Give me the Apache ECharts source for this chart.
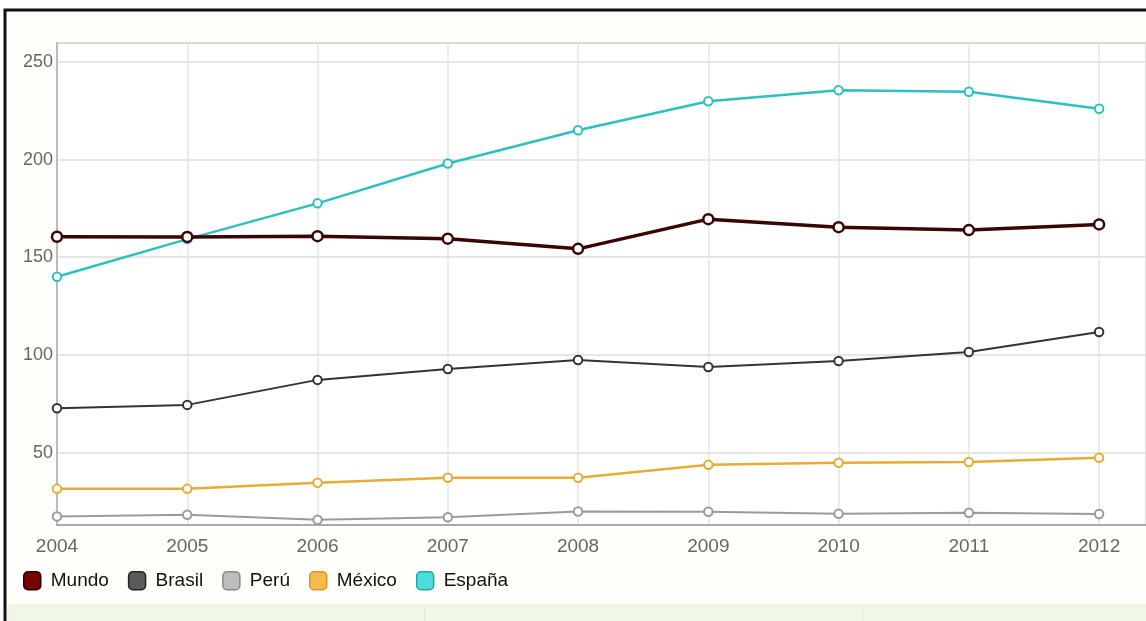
<!DOCTYPE html>
<html>
<head>
<meta charset="utf-8">
<title>Producción por país 2004-2012</title>
<script src="https://cdn.jsdelivr.net/npm/echarts@6/dist/echarts.min.js"></script>
<style>
  html, body { margin: 0; padding: 0; background: #ffffff; }
  #chart { width: 1146px; height: 621px; }
</style>
</head>
<body>
<div id="chart"></div>
<script>
// Years on the horizontal axis
const years = [2004, 2005, 2006, 2007, 2008, 2009, 2010, 2011, 2012];

// Series values per year
const mundo  = [160.5, 160.4, 160.8, 159.5, 154.3, 169.5, 165.4, 163.9, 166.8];
const brasil = [72.7, 74.4, 87.2, 92.8, 97.4, 93.8, 96.9, 101.5, 111.7];
const peru   = [17.3, 18.1, 15.6, 16.9, 19.8, 19.7, 18.6, 19.2, 18.5];
const mexico = [31.4, 31.4, 34.5, 37.1, 37.1, 43.7, 44.8, 45.2, 47.3];
const espana = [140.0, 159.3, 177.6, 198.0, 215.0, 229.9, 235.5, 234.7, 226.0];

const seriesNames = ['Mundo', 'Brasil', 'Perú', 'México', 'España'];
const seriesData = [mundo, brasil, peru, mexico, espana];

// Line / marker styling per series
const lineColors   = ['#3a0505', '#333333', '#9a9a9a', '#e9ab35', '#2cc0c0'];
const lineWidths   = [3.5, 2, 2, 2.5, 2.5];
const legendFills  = ['#7a0000', '#5a5a5a', '#bdbdbd', '#f5b94c', '#4fdcdc'];
const legendEdges  = ['#2a0000', '#222222', '#8a8a8a', '#d9952a', '#1fa8a8'];

const chart = echarts.init(document.getElementById('chart'), null, { renderer: 'canvas' });

const series = seriesNames.map((name, i) => ({
  name: name,
  type: 'line',
  data: years.map((y, k) => [y, seriesData[i][k]]),
  symbol: 'circle',
  symbolSize: i === 0 ? 10 : 8.5,
  showSymbol: true,
  lineStyle: { color: lineColors[i], width: lineWidths[i] },
  itemStyle: {
    color: '#ffffff',
    borderColor: lineColors[i],
    borderWidth: i === 0 ? 2.5 : 2
  },
  z: 10 - i,
  animation: false
}));

const option = {
  animation: false,
  backgroundColor: '#ffffff',
  textStyle: { fontFamily: 'Liberation Sans, Arial, sans-serif' },
  graphic: [
    {
      type: 'rect',
      z: -100,
      silent: true,
      shape: { x: 5, y: 10, width: 1160, height: 630 },
      style: { fill: '#fefefb', stroke: '#111111', lineWidth: 3 }
    },
    {
      type: 'rect',
      z: -90,
      silent: true,
      shape: { x: 8, y: 605, width: 1150, height: 30 },
      style: { fill: '#f2f8e8', stroke: '#e6f0d6', lineWidth: 1 }
    },
    {
      type: 'line',
      z: -80,
      silent: true,
      shape: { x1: 424.5, y1: 606, x2: 424.5, y2: 621 },
      style: { stroke: '#dfe9cf', lineWidth: 1 }
    },
    {
      type: 'line',
      z: -80,
      silent: true,
      shape: { x1: 862.5, y1: 606, x2: 862.5, y2: 621 },
      style: { stroke: '#dfe9cf', lineWidth: 1 }
    }
  ],
  grid: {
    left: 57,
    top: 43,
    right: 0,
    bottom: 96,
    show: true,
    backgroundColor: '#ffffff',
    borderColor: '#cccccc',
    borderWidth: 2,
    containLabel: false
  },
  legend: {
    data: seriesNames.map((n, i) => ({
      name: n,
      itemStyle: { color: legendFills[i], borderColor: legendEdges[i], borderWidth: 1.5 }
    })),
    left: 18,
    top: 566,
    icon: 'roundRect',
    itemWidth: 17,
    itemHeight: 18,
    itemGap: 19,
    textStyle: {
      fontSize: 19,
      color: '#111111',
      fontFamily: 'Liberation Sans, Arial, sans-serif',
      padding: [0, 0, 0, 5]
    }
  },
  xAxis: {
    type: 'value',
    min: 2004,
    max: 2012.36,
    interval: 1,
    axisLine: { show: true, lineStyle: { color: '#aaaaaa', width: 2 } },
    axisTick: { show: false },
    axisLabel: {
      show: true,
      formatter: v => String(v),
      showMaxLabel: false,
      color: '#666666',
      fontSize: 19,
      margin: 12
    },
    splitLine: { show: true, lineStyle: { color: '#e4e4e4', width: 1.5 } }
  },
  yAxis: {
    type: 'value',
    min: 12.9,
    max: 259.7,
    splitNumber: 5,
    axisLine: { show: true, lineStyle: { color: '#bbbbbb', width: 2 } },
    axisTick: { show: false },
    axisLabel: {
      show: true,
      showMinLabel: false,
      showMaxLabel: false,
      color: '#666666',
      fontSize: 18,
      margin: 4
    },
    splitLine: { show: true, lineStyle: { color: '#dddddd', width: 1.5 } }
  },
  series: series
};

chart.setOption(option);
</script>
</body>
</html>
